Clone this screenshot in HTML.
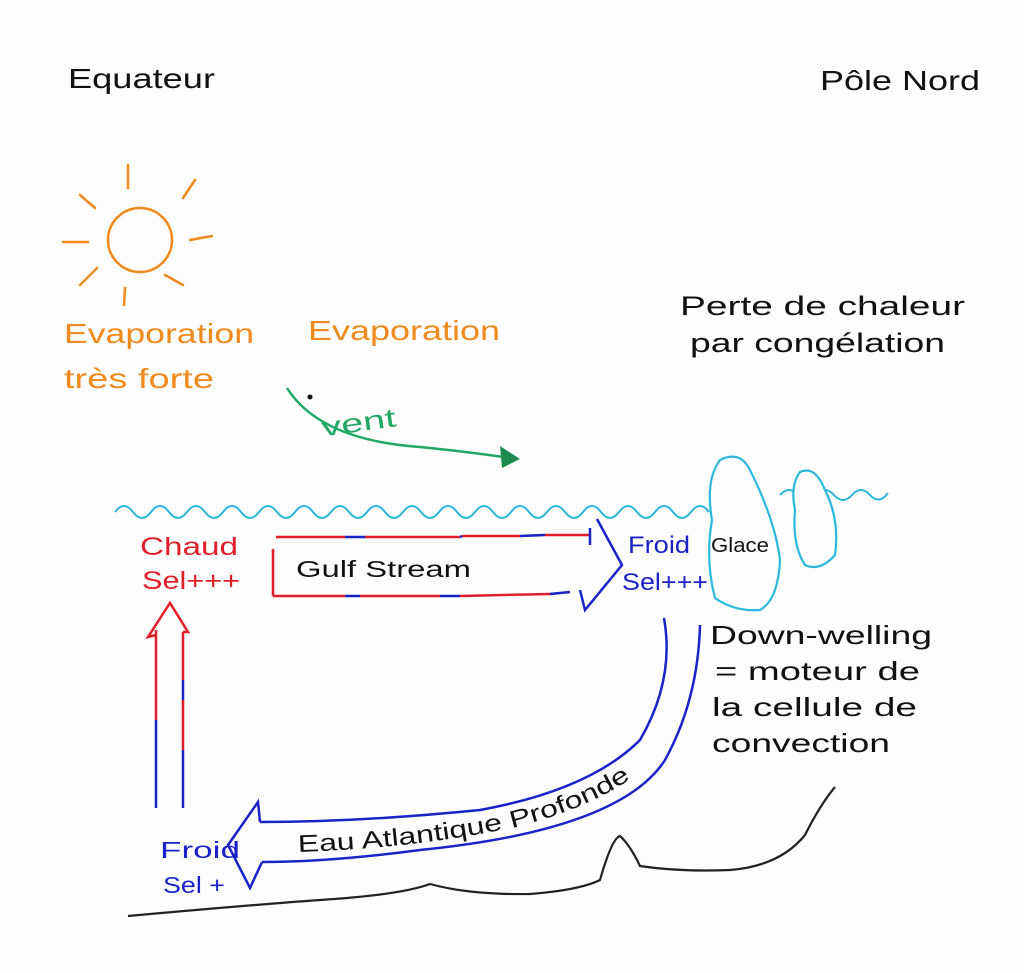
<!DOCTYPE html>
<html><head><meta charset="utf-8"><style>
html,body{margin:0;padding:0;background:#fdfdfd;}
svg{display:block;}
text{font-family:"Liberation Sans",sans-serif;}
</style></head><body>
<svg width="1024" height="973" viewBox="0 0 1024 973" xmlns="http://www.w3.org/2000/svg">
<rect width="1024" height="973" fill="#fdfdfd"/>
<g fill="#111" font-size="28">
<text x="68" y="88" textLength="147" lengthAdjust="spacingAndGlyphs">Equateur</text>
<text x="820" y="90" textLength="160" lengthAdjust="spacingAndGlyphs">Pôle Nord</text>
<text x="680" y="315" font-size="27" textLength="285" lengthAdjust="spacingAndGlyphs">Perte de chaleur</text>
<text x="690" y="352" font-size="27" textLength="255" lengthAdjust="spacingAndGlyphs">par congélation</text>
<text x="710" y="644" font-size="26" textLength="222" lengthAdjust="spacingAndGlyphs">Down-welling</text>
<text x="715" y="680" font-size="26" textLength="205" lengthAdjust="spacingAndGlyphs">= moteur de</text>
<text x="712" y="716" font-size="26" textLength="205" lengthAdjust="spacingAndGlyphs">la cellule de</text>
<text x="712" y="752" font-size="26" textLength="178" lengthAdjust="spacingAndGlyphs">convection</text>
</g>
<g stroke="#f08a1c" stroke-width="2.5" fill="none" stroke-linecap="round">
<circle cx="140" cy="240" r="32"/>
<line x1="128" y1="165" x2="128" y2="188"/>
<line x1="80" y1="195" x2="95" y2="208"/>
<line x1="195" y1="180" x2="183" y2="198"/>
<line x1="63" y1="242" x2="88" y2="242"/>
<line x1="190" y1="240" x2="212" y2="236"/>
<line x1="80" y1="285" x2="97" y2="268"/>
<line x1="165" y1="275" x2="183" y2="285"/>
<line x1="125" y1="288" x2="124" y2="305"/>
</g>
<g fill="#f08a1c" font-size="28">
<text x="64" y="343" textLength="190" lengthAdjust="spacingAndGlyphs">Evaporation</text>
<text x="64" y="388" textLength="150" lengthAdjust="spacingAndGlyphs">très forte</text>
<text x="308" y="340" textLength="192" lengthAdjust="spacingAndGlyphs">Evaporation</text>
</g>
<path d="M287 388 Q320 440 420 447 Q470 452 510 458" stroke="#22a866" stroke-width="2.5" fill="none"/>
<polygon points="500,446 520,459 502,468" fill="#1e8a4e"/>
<circle cx="310" cy="397" r="2.5" fill="#111"/>
<text x="322" y="434" fill="#22a866" font-size="26" transform="rotate(-8 340 430)" textLength="75" lengthAdjust="spacingAndGlyphs">vent</text>
<path d="M115 512 q9 -12 18 0 t18 0 t18 0 t18 0 t18 0 t18 0 t18 0 t18 0 t18 0 t18 0 t18 0 t18 0 t18 0 t18 0 t18 0 t18 0 t18 0 t18 0 t18 0 t18 0 t18 0 t18 0 t18 0 t18 0 t18 0 t18 0 t18 0 t18 0 t18 0 t18 0 t18 0 t18 0 t18 0 M780 495 q9 -10 18 0 t18 0 t18 0 t18 0 t18 0 t18 -2" stroke="#2ab8dc" stroke-width="2" fill="none"/>
<path d="M720 460 Q740 450 750 470 Q775 520 780 560 Q778 600 760 610 Q735 612 715 598 Q705 560 712 520 Q705 480 720 460Z" stroke="#2ab8dc" stroke-width="2.2" fill="#fdfdfd"/>
<path d="M800 472 Q815 465 825 490 Q840 520 835 555 Q820 572 805 565 Q792 545 795 510 Q790 485 800 472Z" stroke="#2ab8dc" stroke-width="2.2" fill="#fdfdfd"/>
<text x="711" y="552" font-size="20" fill="#111" textLength="58" lengthAdjust="spacingAndGlyphs">Glace</text>
<g stroke-width="2.5" fill="none">
<path d="M273 549 L273 596 M276 537 L345 537 M365 537 L460 537 M462 536 L520 536 M545 535 L590 535 M273 596 L345 596 M360 596 L440 596 M460 596 L550 594" stroke="#e11f2a"/>
<path d="M345 537 L365 537 M460 537 L462 536 M520 536 L545 535 M590 528 L590 545 M345 596 L360 596 M440 596 L460 596 M550 594 L570 592 M597 519 L622 565 L585 610 L580 590" stroke="#1a22c8"/>
</g>
<text x="296" y="577" font-size="23" fill="#111" textLength="175" lengthAdjust="spacingAndGlyphs">Gulf Stream</text>
<g fill="#e11f2a" font-size="25"><text x="140" y="555" textLength="98" lengthAdjust="spacingAndGlyphs">Chaud</text><text x="142" y="589" textLength="98" lengthAdjust="spacingAndGlyphs">Sel+++</text></g>
<g fill="#1a22c8" font-size="24"><text x="628" y="553" textLength="62" lengthAdjust="spacingAndGlyphs">Froid</text><text x="622" y="590" textLength="86" lengthAdjust="spacingAndGlyphs">Sel+++</text></g>
<g stroke-width="2.5" fill="none">
<path d="M156 808 L156 720 M183 808 L183 750 M183 700 L183 680" stroke="#1a22c8"/>
<path d="M156 720 L156 630 M183 750 L183 700 M183 680 L183 632 M156 635 L148 637 L170 603 L188 632 L183 632" stroke="#e11f2a"/>
</g>
<g stroke="#1a22c8" stroke-width="2.5" fill="none">
<path d="M664 618 Q675 680 640 740 Q590 790 480 810 Q360 822 260 822"/>
<path d="M700 625 Q698 700 665 760 Q620 830 420 850 Q330 862 262 862"/>
<path d="M260 822 L258 802 L228 845 L250 888 L262 862"/>
</g>
<defs><path id="tp" d="M298 852 Q420 848 520 826 Q600 805 645 768"/></defs>
<text font-size="24" fill="#111"><textPath href="#tp" textLength="345" lengthAdjust="spacingAndGlyphs">Eau Atlantique Profonde</textPath></text>
<g fill="#1a22c8" font-size="23"><text x="160" y="858" textLength="80" lengthAdjust="spacingAndGlyphs">Froid</text><text x="163" y="893" textLength="62" lengthAdjust="spacingAndGlyphs">Sel +</text></g>
<path d="M128 916 Q250 905 320 900 Q400 895 430 884 Q470 895 530 894 Q580 890 600 880 Q612 838 620 836 Q630 845 640 866 Q680 872 730 870 Q780 866 805 835 Q820 805 835 787" stroke="#222" stroke-width="2.2" fill="none"/>
</svg>
</body></html>
